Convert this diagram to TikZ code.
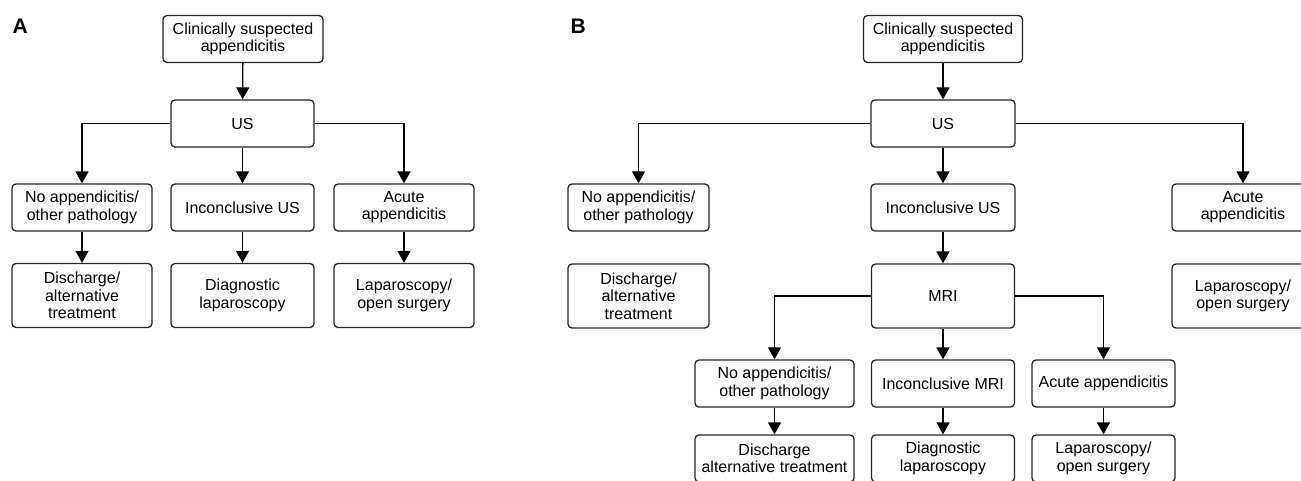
\documentclass[tikz,border=0pt]{standalone}
\usepackage{fontspec}
\setmainfont{Liberation Sans}
\usetikzlibrary{arrows.meta}

\begin{document}
\begin{tikzpicture}[x=1pt,y=-1pt,line width=1.3pt,-{Triangle[length=12pt,width=13pt]}]
    \tikzstyle{box}=[rectangle,draw=black!85,rounded corners=4pt,fill=white,align=center,inner sep=0pt,minimum height=47pt,font=\fontsize{16}{17.3}\selectfont]
    \tikzstyle{tall}=[minimum height=64pt]
    \tikzstyle{panel}=[inner sep=0pt,anchor=north west,font=\fontsize{21}{21}\selectfont\bfseries]
    \clip (0,0) rectangle (1301,480);

    % panel A
    \node[panel] (lab-A) at (12,18) {A};
    \node[box,minimum width=160pt] (A-top) at (243,39) {Clinically suspected\\appendicitis};
    \node[box,minimum width=143pt] (A-us) at (242.5,123.5) {US};
    \node[box,minimum width=140pt] (A-res-1) at (82,207.5) {No appendicitis/\\other pathology};
    \node[box,minimum width=143pt] (A-res-2) at (242.5,207.5) {Inconclusive US};
    \node[box,minimum width=140pt] (A-res-3) at (404,207.5) {Acute\\appendicitis};
    \node[box,tall,minimum width=140pt] (A-act-1) at (82,295.5) {Discharge/\\alternative\\treatment};
    \node[box,tall,minimum width=143pt] (A-act-2) at (242.5,295.5) {Diagnostic\\laparoscopy};
    \node[box,tall,minimum width=140pt] (A-act-3) at (404,295.5) {Laparoscopy/\\open surgery};

    \draw (A-top) -- (A-us);
    \draw (A-us) -| (A-res-1);
    \draw (A-us) -- (A-res-2);
    \draw (A-us) -| (A-res-3);
    \foreach \num in {1,2,3}
        \draw (A-res-\num) -- (A-act-\num);

    % panel B
    \node[panel] (lab-B) at (570,18) {B};
    \node[box,minimum width=159pt] (B-top) at (943,39) {Clinically suspected\\appendicitis};
    \node[box,minimum width=144pt] (B-us) at (943,123.5) {US};
    \node[box,minimum width=141pt] (B-res-1) at (638.5,207.5) {No appendicitis/\\other pathology};
    \node[box,minimum width=144pt] (B-res-2) at (943,207.5) {Inconclusive US};
    \node[box,minimum width=142pt] (B-res-3) at (1243,207.5) {Acute\\appendicitis};
    \node[box,tall,minimum width=141pt] (B-act-1) at (638.5,296) {Discharge/\\alternative\\treatment};
    \node[box,tall,minimum width=143pt] (B-mri) at (943,296) {MRI};
    \node[box,tall,minimum width=142pt] (B-act-3) at (1243,296) {Laparoscopy/\\open surgery};
    \node[box,minimum width=159pt] (B-mri-res-1) at (774.5,383.5) {No appendicitis/\\other pathology};
    \node[box,minimum width=143pt] (B-mri-res-2) at (943,383.5) {Inconclusive MRI};
    \node[box,minimum width=143pt] (B-mri-res-3) at (1103.5,383.5) {Acute appendicitis};
    \node[box,minimum width=159pt] (B-mri-act-1) at (774.5,458.5) {Discharge\\alternative treatment};
    \node[box,minimum width=143pt] (B-mri-act-2) at (943,458.5) {Diagnostic\\laparoscopy};
    \node[box,minimum width=143pt] (B-mri-act-3) at (1103.5,458.5) {Laparoscopy/\\open surgery};

    \draw (B-top) -- (B-us);
    \draw (B-us) -| (B-res-1);
    \draw (B-us) -- (B-res-2);
    \draw (B-us) -| (B-res-3);
    \draw (B-res-2) -- (B-mri);
    \draw (B-mri) -| (B-mri-res-1);
    \draw (B-mri) -- (B-mri-res-2);
    \draw (B-mri) -| (B-mri-res-3);
    \foreach \num in {1,2,3}
        \draw (B-mri-res-\num) -- (B-mri-act-\num);
\end{tikzpicture}
\end{document}
